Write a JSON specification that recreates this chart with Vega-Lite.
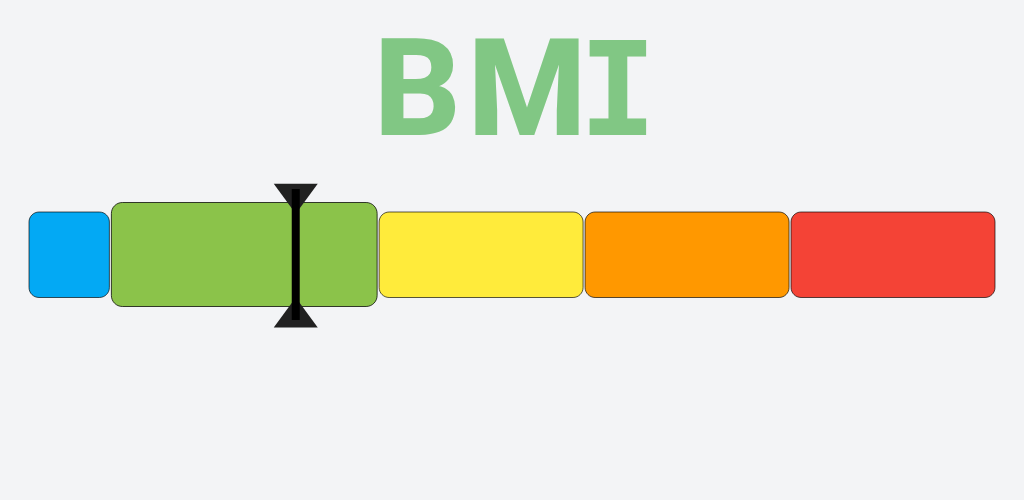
{
  "$schema": "https://vega.github.io/schema/vega-lite/v6.json",
  "width": 1024,
  "height": 500,
  "autosize": {"type": "fit", "contains": "padding"},
  "padding": {"left": 28, "right": 28, "top": 0, "bottom": 0},
  "background": "#f3f4f6",
  "config": {"view": {"stroke": null}},
  "datasets": {
    "zones": [
      {"zone": "Underweight", "start": 16.5, "end": 18.5},
      {"zone": "Normal", "start": 18.5, "end": 25},
      {"zone": "Overweight", "start": 25, "end": 30},
      {"zone": "Obese I", "start": 30, "end": 35},
      {"zone": "Obese II", "start": 35, "end": 40}
    ],
    "reading": [{"bmi": 23}],
    "letters": [{"letter": "B"}, {"letter": "M"}, {"letter": "I"}]
  },
  "layer": [
    {
      "layer": [
        {
          "data": {"name": "zones"},
          "transform": [{"filter": "datum.zone !== 'Normal'"}],
          "mark": {"type": "rect", "cornerRadius": 10, "stroke": "#000", "strokeOpacity": 0.65, "strokeWidth": 1, "xOffset": 1, "x2Offset": -1},
          "encoding": {
            "x": {"field": "start", "type": "quantitative", "scale": {"domain": [16.5, 40], "nice": false, "zero": false}, "axis": null},
            "x2": {"field": "end"},
            "y": {"value": 212},
            "y2": {"value": 297.5},
            "color": {"field": "zone", "type": "nominal", "scale": {"domain": ["Underweight", "Normal", "Overweight", "Obese I", "Obese II"], "range": ["#03A9F4", "#8BC34A", "#FFEB3B", "#FF9800", "#F44336"]}, "legend": null}
          }
        },
        {
          "data": {"name": "zones"},
          "transform": [{"filter": "datum.zone === 'Normal'"}],
          "mark": {"type": "rect", "cornerRadius": 11, "stroke": "#000", "strokeOpacity": 0.75, "strokeWidth": 1, "xOffset": 1, "x2Offset": -1},
          "encoding": {
            "x": {"field": "start", "type": "quantitative"},
            "x2": {"field": "end"},
            "y": {"value": 202.5},
            "y2": {"value": 306.5},
            "color": {"field": "zone", "type": "nominal", "legend": null}
          }
        },
        {
          "data": {"name": "reading"},
          "mark": {"type": "point", "filled": true, "shape": "M-1,-0.68L1,-0.68L0,0.68Z", "size": 1936, "color": "#212121", "opacity": 1},
          "encoding": {
            "x": {"field": "bmi", "type": "quantitative"},
            "y": {"value": 198.7}
          }
        },
        {
          "data": {"name": "reading"},
          "mark": {"type": "point", "filled": true, "shape": "M-1,0.68L1,0.68L0,-0.68Z", "size": 1936, "color": "#212121", "opacity": 1},
          "encoding": {
            "x": {"field": "bmi", "type": "quantitative"},
            "y": {"value": 312.5}
          }
        },
        {
          "data": {"name": "reading"},
          "mark": {"type": "rule", "color": "#000", "strokeWidth": 8},
          "encoding": {
            "x": {"field": "bmi", "type": "quantitative"},
            "y": {"value": 189},
            "y2": {"value": 320}
          }
        }
      ]
    },
    {
      "layer": [
        {
          "data": {"name": "letters"},
          "transform": [{"filter": "datum.letter === 'B'"}],
          "mark": {"type": "text", "font": "Roboto", "fontWeight": 800, "fontSize": 136, "color": "#81C784", "align": "center", "baseline": "alphabetic", "dx": 5.5},
          "encoding": {
            "x": {"field": "letter", "type": "nominal", "scale": {"type": "point", "domain": ["B", "M", "I"], "range": [384, 584], "padding": 0}, "axis": null},
            "y": {"value": 135},
            "text": {"field": "letter"}
          }
        },
        {
          "data": {"name": "letters"},
          "transform": [{"filter": "datum.letter === 'M'"}],
          "mark": {"type": "text", "font": "Roboto", "fontWeight": 800, "fontSize": 136, "color": "#81C784", "align": "center", "baseline": "alphabetic", "dx": 15},
          "encoding": {
            "x": {"field": "letter", "type": "nominal"},
            "y": {"value": 135},
            "text": {"field": "letter"}
          }
        },
        {
          "data": {"name": "letters"},
          "transform": [{"filter": "datum.letter === 'I'"}],
          "mark": {"type": "text", "font": "DejaVu Sans Mono", "fontWeight": "bold", "fontSize": 130, "color": "#81C784", "align": "center", "baseline": "alphabetic", "dx": 6},
          "encoding": {
            "x": {"field": "letter", "type": "nominal"},
            "y": {"value": 135},
            "text": {"field": "letter"}
          }
        }
      ]
    }
  ],
  "resolve": {"scale": {"x": "independent"}}
}
